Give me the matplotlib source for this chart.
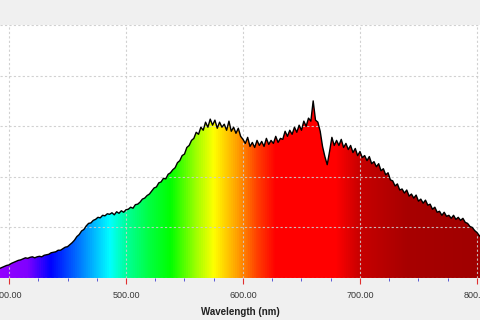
import numpy as np
import matplotlib
matplotlib.use('Agg')
import matplotlib.pyplot as plt
from matplotlib.colors import LinearSegmentedColormap
from matplotlib.patches import Polygon
from matplotlib.ticker import MultipleLocator, FormatStrFormatter

# Spectrum read off the screenshot, sampled every 2 nm from 392 nm
# (arbitrary intensity units, one grid step = 1)
wl_start, wl_step = 392, 2
intensity = [
    0.19, 0.21, 0.23, 0.25, 0.26, 0.29, 0.31, 0.33, 0.35, 0.36,
    0.38, 0.40, 0.39, 0.41, 0.42, 0.40, 0.42, 0.43, 0.42, 0.45,
    0.46, 0.47, 0.50, 0.51, 0.52, 0.55, 0.55, 0.58, 0.61, 0.62,
    0.66, 0.70, 0.75, 0.82, 0.86, 0.93, 0.96, 1.03, 1.08, 1.09,
    1.14, 1.16, 1.20, 1.19, 1.24, 1.23, 1.27, 1.26, 1.29, 1.25,
    1.31, 1.28, 1.33, 1.30, 1.35, 1.36, 1.40, 1.38, 1.45, 1.46,
    1.50, 1.56, 1.58, 1.63, 1.66, 1.72, 1.78, 1.80, 1.88, 1.90,
    1.97, 1.96, 2.05, 2.08, 2.14, 2.18, 2.28, 2.32, 2.42, 2.45,
    2.58, 2.62, 2.72, 2.76, 2.88, 2.84, 2.98, 2.92, 3.08, 2.98,
    3.14, 3.02, 3.12, 2.96, 3.08, 2.98, 3.04, 2.92, 3.10, 2.90,
    2.98, 2.86, 2.96, 2.80, 2.74, 2.66, 2.78, 2.60, 2.68, 2.58,
    2.72, 2.62, 2.70, 2.60, 2.76, 2.64, 2.72, 2.66, 2.80, 2.68,
    2.76, 2.74, 2.90, 2.80, 2.92, 2.84, 2.98, 2.88, 3.02, 2.92,
    3.10, 3.00, 3.16, 3.10, 3.50, 3.12, 3.08, 2.90, 2.60, 2.40,
    2.24, 2.50, 2.78, 2.62, 2.72, 2.62, 2.74, 2.58, 2.66, 2.54,
    2.62, 2.48, 2.56, 2.42, 2.50, 2.38, 2.42, 2.32, 2.40, 2.26,
    2.30, 2.20, 2.26, 2.12, 2.16, 2.04, 2.08, 1.94, 1.92, 1.82,
    1.86, 1.74, 1.76, 1.68, 1.74, 1.62, 1.66, 1.58, 1.64, 1.52,
    1.56, 1.48, 1.54, 1.44, 1.46, 1.36, 1.40, 1.30, 1.32, 1.24,
    1.30, 1.22, 1.24, 1.18, 1.24, 1.16, 1.20, 1.14, 1.18, 1.10,
    1.08, 1.02, 1.00, 0.94, 0.90, 0.84, 0.79,
]
wavelength = wl_start + wl_step * np.arange(len(intensity))

# colour of the fill by wavelength
color_nm = [392, 415, 435, 455, 486, 500, 520, 538, 560, 575, 595, 612, 628, 680, 700, 740, 804]
color_hex = ['#9400ff', '#8000ff', '#0000ff', '#0060ff', '#00ffff', '#00ff99', '#00ff40',
             '#00ff00', '#a0ff00', '#ffff00', '#ffa000', '#ff4000', '#ff0000', '#ff0000',
             '#c80000', '#a80000', '#a00000']

xmin, xmax = 392.3, 802.6

plt.rcParams['font.family'] = ['Liberation Sans', 'DejaVu Sans']

fig = plt.figure(figsize=(4.8, 3.2), dpi=100, facecolor='#f0f0f0')
ax = fig.add_axes([0, 0.131, 1, 0.791])
ax.set_facecolor('white')

# rainbow gradient clipped to the area under the spectrum
pos = [(n - color_nm[0]) / (color_nm[-1] - color_nm[0]) for n in color_nm]
cmap = LinearSegmentedColormap.from_list('spec', list(zip(pos, color_hex)))
grad = np.linspace(0, 1, 512).reshape(1, -1)
im = ax.imshow(grad, cmap=cmap, aspect='auto', extent=[color_nm[0], color_nm[-1], 0, 5],
               origin='lower', zorder=1)
verts = list(zip(wavelength, intensity)) + [(wavelength[-1], 0), (wavelength[0], 0)]
poly = Polygon(verts, closed=True, facecolor='none', edgecolor='none', transform=ax.transData)
ax.add_patch(poly)
im.set_clip_path(poly)

ax.plot(wavelength, intensity, color='black', lw=1.0, zorder=3)

ax.set_xlim(xmin, xmax)
ax.set_ylim(0, 5)
ax.xaxis.set_major_locator(MultipleLocator(100))
ax.xaxis.set_minor_locator(MultipleLocator(25))
ax.xaxis.set_major_formatter(FormatStrFormatter('%.2f'))
ax.yaxis.set_major_locator(MultipleLocator(1))
ax.set_yticklabels([])
ax.tick_params(axis='y', length=0)
ax.tick_params(axis='x', which='major', length=4, color='#e03030', labelsize=6.5,
               labelcolor='#383838', pad=5)
ax.tick_params(axis='x', which='minor', length=2, color='#4040d0')
for s in ax.spines.values():
    s.set_visible(False)

ax.set_axisbelow(False)
ax.grid(True, which='major', color='#cccccc', alpha=0.9, lw=0.8, linestyle=(0, (2, 2)))

ax.set_xlabel('Wavelength (nm)', fontsize=7, fontweight='bold', color='#202020', labelpad=5)

fig.savefig('out.png', dpi=100, facecolor=fig.get_facecolor())
